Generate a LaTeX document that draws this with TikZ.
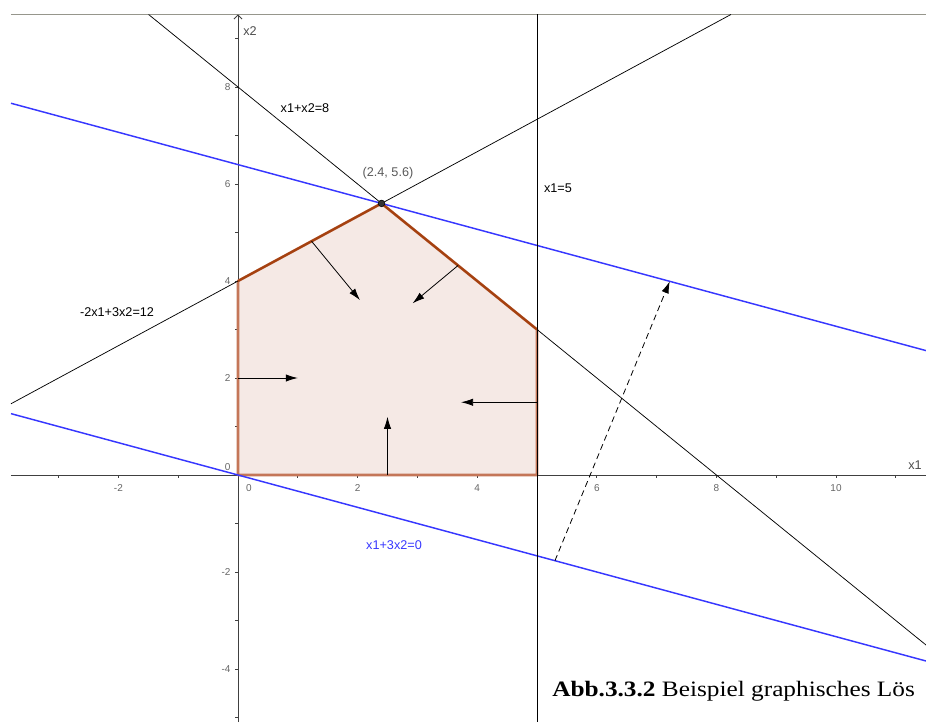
\documentclass[tikz,border=0pt]{standalone}
\usepackage{fontspec}
\setmainfont{Liberation Serif}
\setsansfont{Liberation Sans}
\usepackage{xcolor}
\usetikzlibrary{arrows.meta,positioning}

\definecolor{objblue}{RGB}{55,55,255}
\definecolor{regionfill}{RGB}{245,233,229}
\definecolor{regionedge}{RGB}{165,65,15}
\definecolor{softedge}{RGB}{196,118,88}
\definecolor{framegray}{RGB}{150,150,140}

\begin{document}
\begin{tikzpicture}[
    x=44.85pt, y=36.375pt,
    font=\sffamily,
    axis/.style={draw=black!75, line width=0.6pt},
    windowtop/.style={draw=framegray, line width=0.8pt},
    constraint/.style={draw=black, line width=0.55pt},
    objective/.style={draw=objblue, line width=1.1pt},
    feasible/.style={fill=regionfill, draw=softedge, line width=2pt, line join=round},
    boundary/.style={draw=regionedge, line width=1.6pt, line join=round},
    normalarrow/.style={-{Latex[length=9pt,width=5.5pt]}, draw=black, line width=0.6pt},
    levelshift/.style={-{Latex[length=9pt,width=5.5pt]}, draw=black, line width=0.6pt,
        dash pattern=on 4.5pt off 3pt},
    axistick/.style={draw=black!75, line width=0.6pt},
    ticklabel/.style={font=\sffamily\fontsize{7.5}{8}\selectfont, text=black!60, inner sep=0pt},
    eqlabel/.style={font=\sffamily\fontsize{9.5}{11}\selectfont, inner sep=0pt},
    vertex/.style={circle, fill=black!80, draw=black, inner sep=0pt, minimum size=5pt}
]
\useasboundingbox (-3.980,-5.093) rectangle (11.505,9.794);

% =========================================================
% Window and axes
% =========================================================
\coordinate (winL) at (-3.796,9.495);
\coordinate (winR) at (11.505,9.495);
\draw[windowtop] (winL) -- (winR);

\coordinate (xaxL) at (-3.796,0);
\coordinate (xaxR) at (11.505,0);
\coordinate (yaxB) at (0,-5.093);
\coordinate (yaxT) at (0,9.495);
\draw[axis] (xaxL) -- (xaxR);
\draw[axis, -{Straight Barb[length=3pt,width=6pt]}] (yaxB) -- (yaxT);

\foreach \i in {-3,...,11}
    \draw[axistick] (\i,0) -- ++(0,-2.2pt);
\foreach \j in {-5,...,9}
    \draw[axistick] (0,\j) -- ++(-2.2pt,0);

\foreach \i/\n in {-2/m2,2/p2,4/p4,6/p6,8/p8,10/p10}
    \node[ticklabel] (xl\n) at (\i,-0.268) {\i};
\node[ticklabel] (xl0) at (0.184,-0.268) {0};
\foreach \j/\n in {-4/m4,-2/m2,2/p2,4/p4,6/p6,8/p8}
    \node[ticklabel, anchor=east] (yl\n) at (-0.12,\j) {\j};
\node[ticklabel, anchor=east] (yl0) at (-0.12,0.171) {0};

\node[eqlabel, text=black!70] (xonelab) at (11.32,0.206) {x1};
\node[eqlabel, text=black!70] (xtwolab) at (0.2,9.155) {x2};

% =========================================================
% Feasible region
% =========================================================
\coordinate (O) at (0,0);
\coordinate (B) at (5,0);
\coordinate (C) at (5,3);
\coordinate (P) at (2.4,5.6);
\coordinate (D) at (0,4);

\draw[feasible] (O) -- (B) -- (C) -- (P) -- (D) -- cycle;

% =========================================================
% Constraint lines
% =========================================================
\coordinate (sumTop) at (-1.495,9.495);
\coordinate (sumEnd) at (11.505,-3.505);
\draw[constraint] (sumTop) -- (sumEnd);

\coordinate (mixL) at (-3.796,1.469);
\coordinate (mixTop) at (8.243,9.495);
\draw[constraint] (mixL) -- (mixTop);

% Objective lines
\coordinate (zeroL) at (-3.796,1.265);
\coordinate (zeroR) at (11.505,-3.835);
\draw[objective] (zeroL) -- (zeroR);

\coordinate (optL) at (-3.796,7.665);
\coordinate (optR) at (11.505,2.565);
\draw[objective] (optL) -- (optR);

% upper boundary over the lines
\draw[boundary] (C) -- (P) -- (D);

\coordinate (fiveTop) at (5,9.495);
\coordinate (fiveBot) at (5,-5.093);
\draw[constraint] (fiveTop) -- (fiveBot);

% =========================================================
% Arrows
% =========================================================
\coordinate (n1s) at (0,2);     \coordinate (n1e) at (1,2);
\coordinate (n2s) at (5,1.5);   \coordinate (n2e) at (3.73,1.5);
\coordinate (n3s) at (2.5,0);   \coordinate (n3e) at (2.5,1.2);
\coordinate (n4s) at (1.23,4.82); \coordinate (n4e) at (2.04,3.605);
\coordinate (n5s) at (3.68,4.32); \coordinate (n5e) at (2.92,3.54);
\draw[normalarrow] (n1s) -- (n1e);
\draw[normalarrow] (n2s) -- (n2e);
\draw[normalarrow] (n3s) -- (n3e);
\draw[normalarrow] (n4s) -- (n4e);
\draw[normalarrow] (n5s) -- (n5e);

\coordinate (moveS) at (5.3,-1.767);
\coordinate (moveE) at (7.22,3.993);
\draw[levelshift] (moveS) -- (moveE);

\node[vertex] (opt) at (P) {};

% =========================================================
% Labels
% =========================================================
\node[eqlabel] (sumlab) at (1.12,7.567) {x1+x2=8};
\node[eqlabel] (fivelab) at (5.35,5.918) {x1=5};
\node[eqlabel] (mixlab) at (-2.023,3.361) {-2x1+3x2=12};
\node[eqlabel, text=objblue] (zerolab) at (2.609,-1.443) {x1+3x2=0};
\node[eqlabel, text=black!65] (optlab) at (2.508,6.227) {(2.4, 5.6)};

\node[anchor=base west, inner sep=0pt, font=\rmfamily\fontsize{16.5}{20}\selectfont]
    (caption) at (5.251,-4.577) {\scalebox{1.15}[1]{\textbf{Abb.3.3.2} Beispiel graphisches Lös}};

\end{tikzpicture}
\end{document}
